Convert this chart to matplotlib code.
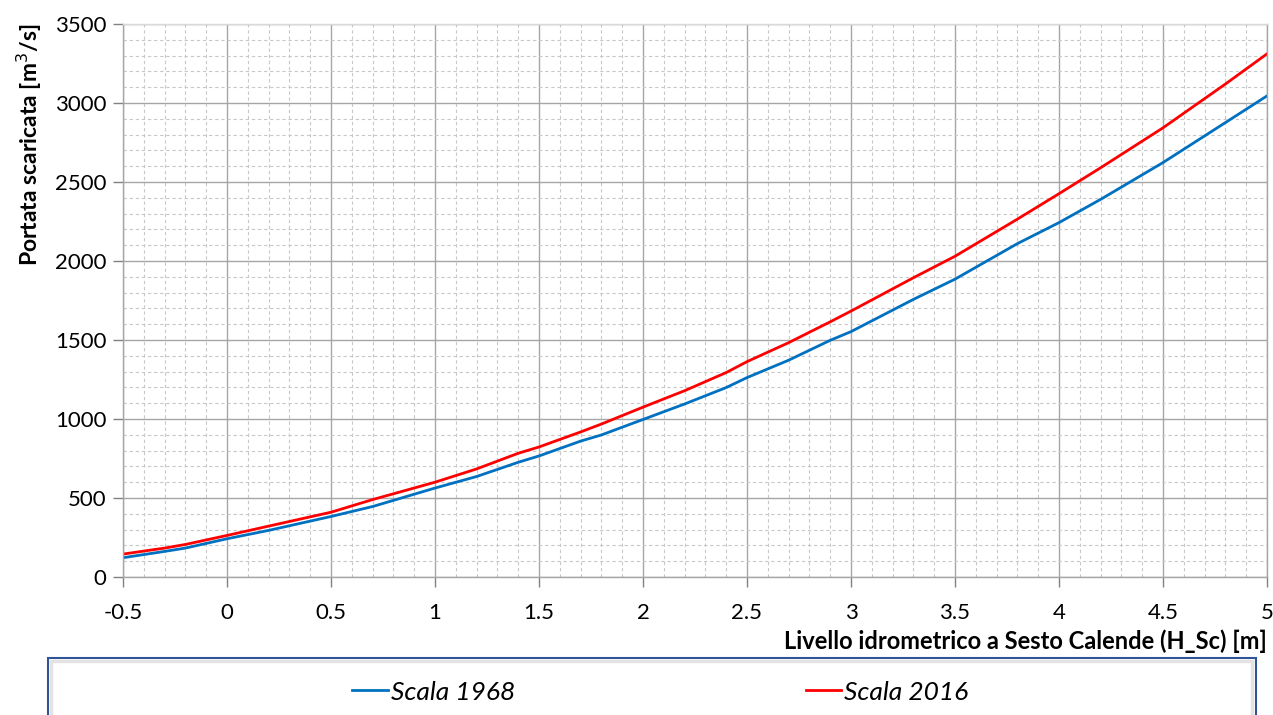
import matplotlib.pyplot as plt
from matplotlib.patches import Rectangle
from matplotlib.ticker import MultipleLocator, FuncFormatter

plt.rcParams['font.family'] = ['Lato', 'DejaVu Sans']

# Livello idrometrico (m) and portata (m3/s)
livello = [-0.5, -0.3, -0.2, 0.0, 0.2, 0.5, 0.7, 1.0, 1.2, 1.4, 1.5, 1.7, 1.8, 2.0,
           2.2, 2.4, 2.5, 2.7, 2.9, 3.0, 3.3, 3.5, 3.8, 4.0, 4.2, 4.5, 4.8, 5.0]
scala_1968 = [122, 162, 183, 242, 295, 383, 446, 563, 636, 726, 766, 860, 899, 997,
              1095, 1199, 1262, 1372, 1498, 1553, 1757, 1885, 2110, 2243, 2390, 2623, 2876, 3045]
scala_2016 = [145, 183, 206, 263, 322, 410, 490, 600, 684, 783, 823, 918, 968, 1075,
              1179, 1294, 1363, 1483, 1615, 1683, 1894, 2030, 2265, 2426, 2590, 2843, 3120, 3311]

W, H = 1273, 715
fig = plt.figure(figsize=(W / 100, H / 100), dpi=100)
ax = fig.add_axes([123 / W, 1 - 577 / H, (1267 - 123) / W, (577 - 24) / H])

l1, = ax.plot(livello, scala_1968, color='#0070C0', lw=2.0, label='Scala 1968')
l2, = ax.plot(livello, scala_2016, color='#FF0000', lw=2.0, label='Scala 2016')

ax.set_xlim(-0.5, 5)
ax.set_ylim(0, 3500)
ax.xaxis.set_major_locator(MultipleLocator(0.5))
ax.xaxis.set_minor_locator(MultipleLocator(0.1))
ax.yaxis.set_major_locator(MultipleLocator(500))
ax.yaxis.set_minor_locator(MultipleLocator(100))
ax.xaxis.set_major_formatter(FuncFormatter(lambda v, p: f'{v:g}'))

ax.grid(which='major', color='#a6a6a6', lw=1.0, ls='-')
ax.grid(which='minor', color='#c8c8c8', lw=0.8, ls=(0, (3, 2.5)))
ax.set_axisbelow(True)

for s in ax.spines.values():
    s.set_color('#a6a6a6')
    s.set_linewidth(1.0)
ax.spines['top'].set_color('#d9d9d9')

ax.tick_params(which='major', direction='out', length=7, width=1, color='#808080',
               labelsize=16, pad=5)
ax.tick_params(which='minor', length=0)
ax.tick_params(axis='x', pad=12)

ax.set_xlabel('Livello idrometrico a Sesto Calende (H_Sc) [m]', fontsize=17,
              fontweight='bold', loc='right', labelpad=4)
ax.set_ylabel('Portata scaricata [m$^3$/s]', fontsize=16.5, fontweight='bold',
              loc='top', labelpad=8)

# legend box (cut off at bottom, as in the original)
fig.patches.append(Rectangle((48 / W, -20 / H), (1256 - 48) / W, (57 + 20) / H,
                             transform=fig.transFigure, facecolor='white',
                             edgecolor='#2f5597', lw=1.5, zorder=1))
fig.patches.append(Rectangle((51 / W, -20 / H), (1252 - 51) / W, (54 + 20) / H,
                             transform=fig.transFigure, facecolor='none',
                             edgecolor='#e3e3e3', lw=2.5, zorder=2))

fig.legend(handles=[l1, l2], loc='center left', bbox_to_anchor=(339 / W, 1 - 692 / H),
           ncol=2, frameon=False, borderpad=0, handlelength=1.35, handletextpad=0.12,
           columnspacing=11.0, prop={'style': 'italic', 'size': 19})

fig.savefig('out.png', dpi=100)
